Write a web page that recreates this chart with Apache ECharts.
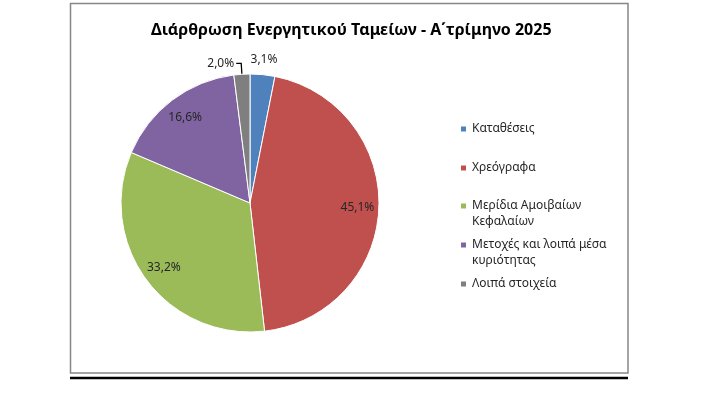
<!DOCTYPE html>
<html>
<head>
<meta charset="utf-8">
<title>Διάρθρωση Ενεργητικού Ταμείων</title>
<script src="https://cdn.jsdelivr.net/npm/echarts@6/dist/echarts.min.js"></script>
<style>
  html, body { margin: 0; padding: 0; background: #fff; }
  #main { width: 713px; height: 414px; }
</style>
</head>
<body>
<div id="main"></div>
<script>
// δεδομένα
const categories = ['Καταθέσεις', 'Χρεόγραφα', 'Μερίδια Αμοιβαίων Κεφαλαίων', 'Μετοχές και λοιπά μέσα κυριότητας', 'Λοιπά στοιχεία'];
const legendText = ['Καταθέσεις', 'Χρεόγραφα', 'Μερίδια Αμοιβαίων\nΚεφαλαίων', 'Μετοχές και λοιπά μέσα\nκυριότητας', 'Λοιπά στοιχεία'];
const shares = [3.1, 45.1, 33.2, 16.6, 2.0];
const colors = ['#4F81BD', '#C0504D', '#9BBB59', '#8064A2', '#7F7F7F'];

// ποιες ετικέτες πάνε μέσα / έξω
const innerLabel = [false, true, true, true, false];
const outerLabel = [true, false, false, false, false];
const leaderLabel = [false, false, false, false, true];

const FONT = '"Noto Sans", sans-serif';
const TXT = '#262626';
const pct = (p) => p.value.toFixed(1).replace('.', ',') + '%';

const center = [250, 203];
const R = 129;

// κύρια πίτα (φέτες + ετικέτα με γραμμή)
const mainData = categories.map((name, i) => ({
  name: name,
  value: shares[i],
  itemStyle: { color: colors[i] },
  label: { show: leaderLabel[i] },
  labelLine: { show: leaderLabel[i] }
}));

// διάφανοι δακτύλιοι μόνο για τις θέσεις των ετικετών
const ringData = (flags) => categories.map((name, i) => ({
  name: name,
  value: shares[i],
  label: { show: flags[i] }
}));

// το εικονίδιο στην πρώτη γραμμή: κενή γραμμή από πάνω για τα διπλά
const legendRows = [129, 168, 206, 245, 284];
const legends = categories.map((name, i) => {
  const twoLines = legendText[i].indexOf('\n') >= 0;
  return {
    data: [name],
    orient: 'vertical',
    left: 459,
    top: legendRows[i] - (twoLines ? 24 : 8),
    padding: 0,
    icon: 'rect',
    itemWidth: 7,
    itemHeight: 7,
    selectedMode: false,
    formatter: () => (twoLines ? ' \n' : '') + legendText[i],
    textStyle: { fontFamily: FONT, fontSize: 12, color: TXT, lineHeight: 16 }
  };
});

const option = {
  animation: false,
  title: {
    text: 'Διάρθρωση Ενεργητικού Ταμείων - Α΄τρίμηνο 2025',
    left: 146,
    top: 17,
    padding: 5,
    textStyle: { fontFamily: FONT, fontSize: 16, fontWeight: 'bold', color: '#000' }
  },
  legend: legends,
  graphic: [
    { type: 'rect', shape: { x: 70.5, y: 3.5, width: 557.5, height: 369.5 },
      style: { fill: null, stroke: '#868686', lineWidth: 1.5 }, silent: true },
    { type: 'line', shape: { x1: 70, y1: 378, x2: 628, y2: 378 },
      style: { stroke: '#000', lineWidth: 2.5 }, silent: true }
  ],
  series: [
    {
      type: 'pie',
      center: center,
      radius: R,
      startAngle: 90,
      clockwise: true,
      avoidLabelOverlap: false,
      itemStyle: { borderColor: '#fff', borderWidth: 1 },
      label: {
        position: 'outside', formatter: pct,
        fontFamily: FONT, fontSize: 12, color: TXT, distanceToLabelLine: 2
      },
      labelLine: { length: 11, length2: 5, smooth: false, lineStyle: { color: '#000', width: 1.3 } },
      emphasis: { disabled: true },
      data: mainData
    },
    {
      type: 'pie',
      center: center,
      radius: [80, R],
      startAngle: 90,
      silent: true,
      avoidLabelOverlap: false,
      itemStyle: { color: 'rgba(0,0,0,0)' },
      label: { position: 'inside', formatter: pct, fontFamily: FONT, fontSize: 12, color: TXT },
      labelLine: { show: false },
      data: ringData(innerLabel)
    },
    {
      type: 'pie',
      center: center,
      radius: [R, 153],
      startAngle: 90,
      silent: true,
      avoidLabelOverlap: false,
      itemStyle: { color: 'rgba(0,0,0,0)' },
      label: { position: 'inside', formatter: pct, fontFamily: FONT, fontSize: 12, color: TXT },
      labelLine: { show: false },
      data: ringData(outerLabel)
    }
  ]
};

const chart = echarts.init(document.getElementById('main'), null, { renderer: 'canvas' });
chart.setOption(option);
</script>
</body>
</html>
